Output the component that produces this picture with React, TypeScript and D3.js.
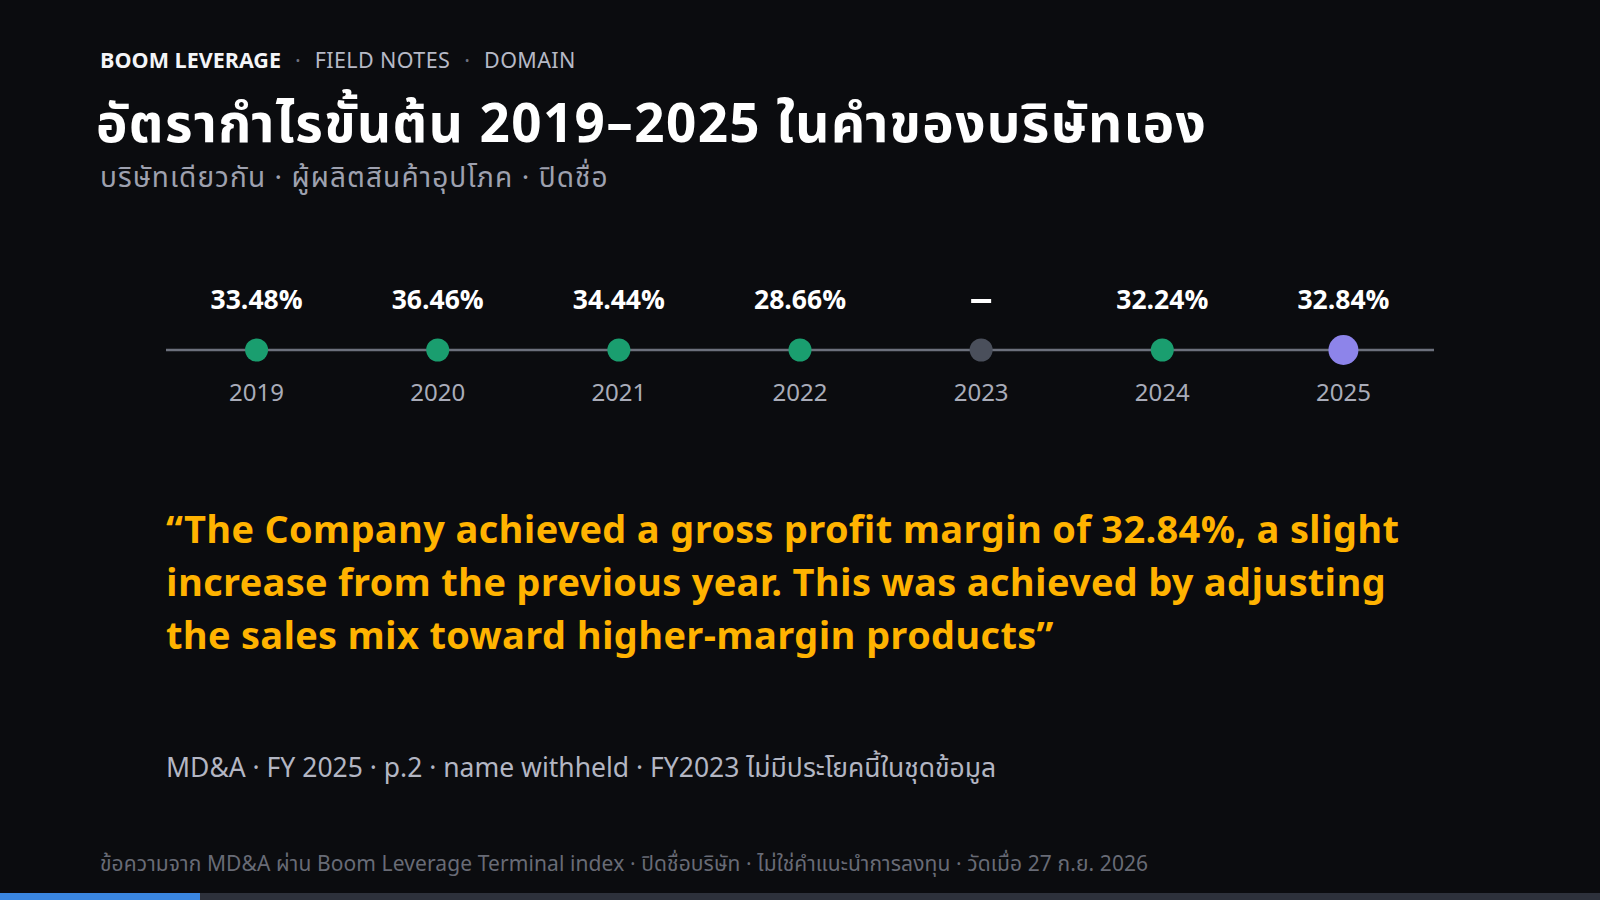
import React, { useEffect } from "react";
import * as d3 from "d3";

const years = ["2019", "2020", "2021", "2022", "2023", "2024", "2025"];
const margins: (number | null)[] = [33.48, 36.46, 34.44, 28.66, null, 32.24, 32.84];
const highlightYear = "2025";

const brand = "BOOM LEVERAGE";
const crumbs = ["FIELD NOTES", "DOMAIN"];
const title = "อัตรากำไรขั้นต้น 2019–2025 ในคำของบริษัทเอง";
const subtitle = "บริษัทเดียวกัน · ผู้ผลิตสินค้าอุปโภค · ปิดชื่อ";
const quoteLines = [
  "“The Company achieved a gross profit margin of 32.84%, a slight",
  "increase from the previous year. This was achieved by adjusting",
  "the sales mix toward higher-margin products”",
];
const sourceLine = "MD&A · FY 2025 · p.2 · name withheld · FY2023 ไม่มีประโยคนี้ในชุดข้อมูล";
const footer =
  "ข้อความจาก MD&A ผ่าน Boom Leverage Terminal index · ปิดชื่อบริษัท · ไม่ใช่คำแนะนำการลงทุน · วัดเมื่อ 27 ก.ย. 2026";
const progress = [1, 8];

const W = 1600;
const H = 900;
const FONT = "'Noto Sans Thai', 'Noto Sans', 'Open Sans', sans-serif";

export default function App() {
  useEffect(() => {
    document.body.style.margin = "0";
    document.body.style.background = "#0b0c0f";
  }, []);

  const x = d3.scaleBand<string>().domain(years).range([166, 1434]).padding(0);
  const cx = (y: string) => (x(y) ?? 0) + x.bandwidth() / 2;
  const lineY = 350;
  const prog = d3.scaleLinear().domain([0, progress[1]]).range([0, W]);

  return (
    <svg width={W} height={H} viewBox={`0 0 ${W} ${H}`} style={{ display: "block", fontFamily: FONT }}>
      <rect x={0} y={0} width={W} height={H} fill="#0b0c0f" />

      {/* header */}
      <text x={100} y={68} fontSize={21.5} fill="#f4f5f8">
        <tspan fontWeight={700}>{brand}</tspan>
        <tspan fill="#6d7180" dx={14}>·</tspan>
        <tspan fill="#b6b9c6" dx={14} letterSpacing={0.4}>{crumbs[0]}</tspan>
        <tspan fill="#6d7180" dx={14}>·</tspan>
        <tspan fill="#b6b9c6" dx={14} letterSpacing={0.4}>{crumbs[1]}</tspan>
      </text>

      <text x={96} y={142} fontSize={53} fontWeight={700} fill="#ffffff" letterSpacing={1.4}>
        {title}
      </text>
      <text x={100} y={187} fontSize={28} fill="#9ea1af" letterSpacing={1.1}>
        {subtitle}
      </text>

      {/* timeline */}
      <line x1={x.range()[0]} x2={x.range()[1]} y1={lineY} y2={lineY} stroke="#6c707c" strokeWidth={2.5} />
      {years.map((yr, i) => {
        const v = margins[i];
        const hi = yr === highlightYear;
        const fill = v == null ? "#4a4f5b" : hi ? "#8d84ea" : "#1a9e6f";
        return (
          <g key={yr}>
            <circle cx={cx(yr)} cy={lineY} r={hi ? 15 : 11.5} fill={fill} />
            {v == null ? (
              <rect x={cx(yr) - 10} y={299} width={20} height={4} fill="#ffffff" />
            ) : (
              <text x={cx(yr)} y={309} textAnchor="middle" fontSize={26.5} fontWeight={700} fill="#ffffff">
                {`${d3.format(".2f")(v)}%`}
              </text>
            )}
            <text x={cx(yr)} y={401} textAnchor="middle" fontSize={24} fill="#a9acb9">
              {yr}
            </text>
          </g>
        );
      })}

      {/* quote */}
      {quoteLines.map((ln, i) => (
        <text key={i} x={166} y={543 + i * 53} fontSize={38} fontWeight={700} fill="#ffb300" letterSpacing={0.3}>
          {ln}
        </text>
      ))}

      <text x={166} y={777} fontSize={26.5} fill="#b3b6c3">
        {sourceLine}
      </text>

      <text x={100} y={871} fontSize={21} fill="#686b76" letterSpacing={0.1}>
        {footer}
      </text>

      {/* progress bar */}
      <rect x={0} y={893} width={W} height={7} fill="#2d313b" />
      <rect x={0} y={893} width={prog(progress[0])} height={7} fill="#3a86e0" />
    </svg>
  );
}
